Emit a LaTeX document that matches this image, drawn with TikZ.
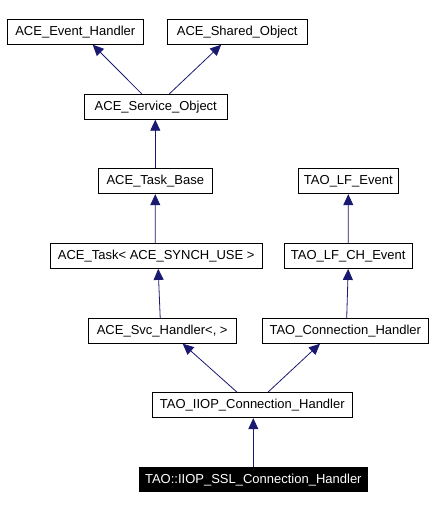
\documentclass[tikz,border=0pt]{standalone}
\usepackage{fontspec}
\setmainfont{Liberation Sans}
\usepackage{tikz}
\usetikzlibrary{arrows.meta}
\definecolor{navy}{HTML}{191970}
\tikzset{
  cls/.style={draw=black, line width=0.8pt, minimum height=25pt, inner sep=0pt,
    font=\fontsize{13}{15}\selectfont},
  cur/.style={cls, fill=black, text=white},
  inh/.style={draw=navy, line width=0.8pt,
    {Triangle[length=11pt,width=10pt,fill=navy]}-}
}
\begin{document}
\begin{tikzpicture}[x=1pt,y=-1pt]
\useasboundingbox (0,0) rectangle (434,510);
\node[cls, minimum width=136pt] (evh) at (75.3,31.8) {ACE\_Event\_Handler};
\node[cls, minimum width=139.7pt] (sho) at (237.2,31.8) {ACE\_Shared\_Object};
\node[cls, minimum width=143pt] (svo) at (155.8,106.8) {ACE\_Service\_Object};
\node[cls, minimum width=114pt] (tkb) at (155.3,181.3) {ACE\_Task\_Base};
\node[cls, minimum width=100pt] (lfe) at (348.3,181.3) {TAO\_LF\_Event};
\node[cls, minimum width=212.3pt] (tsk) at (156.2,256) {ACE\_Task< ACE\_SYNCH\_USE >};
\node[cls, minimum width=128.3pt] (lfc) at (348.2,256) {TAO\_LF\_CH\_Event};
\node[cls, minimum width=147.7pt] (svc) at (162.2,330.8) {ACE\_Svc\_Handler<, >};
\node[cls, minimum width=166pt] (coh) at (345.3,330.8) {TAO\_Connection\_Handler};
\node[cls, minimum width=200pt] (iiop) at (252.3,405.3) {TAO\_IIOP\_Connection\_Handler};
\node[cur, minimum width=228.7pt, minimum height=24pt] (ssl) at (253.3,479.7) {TAO::IIOP\_SSL\_Connection\_Handler};
\draw[inh] ([xshift=17.4pt]evh.south) -- ([xshift=-14pt]svo.north);
\draw[inh] ([xshift=-16pt]sho.south) -- ([xshift=13.5pt]svo.north);
\draw[inh] ([xshift=-0.5pt]svo.south) -- (tkb.north);
\draw[inh] (tkb.south) -- ([xshift=-1pt]tsk.north);
\draw[inh] (lfe.south) -- (lfc.north);
\draw[inh] ([xshift=2pt]tsk.south) -- ([xshift=-2pt]svc.north);
\draw[inh] (lfc.south) -- ([xshift=1.4pt]coh.north);
\draw[inh] ([xshift=20.5pt]svc.south) -- ([xshift=-15pt]iiop.north);
\draw[inh] ([xshift=-25.3pt]coh.south) -- ([xshift=15.4pt]iiop.north);
\draw[inh] ([xshift=1pt]iiop.south) -- (ssl.north);
\end{tikzpicture}
\end{document}
